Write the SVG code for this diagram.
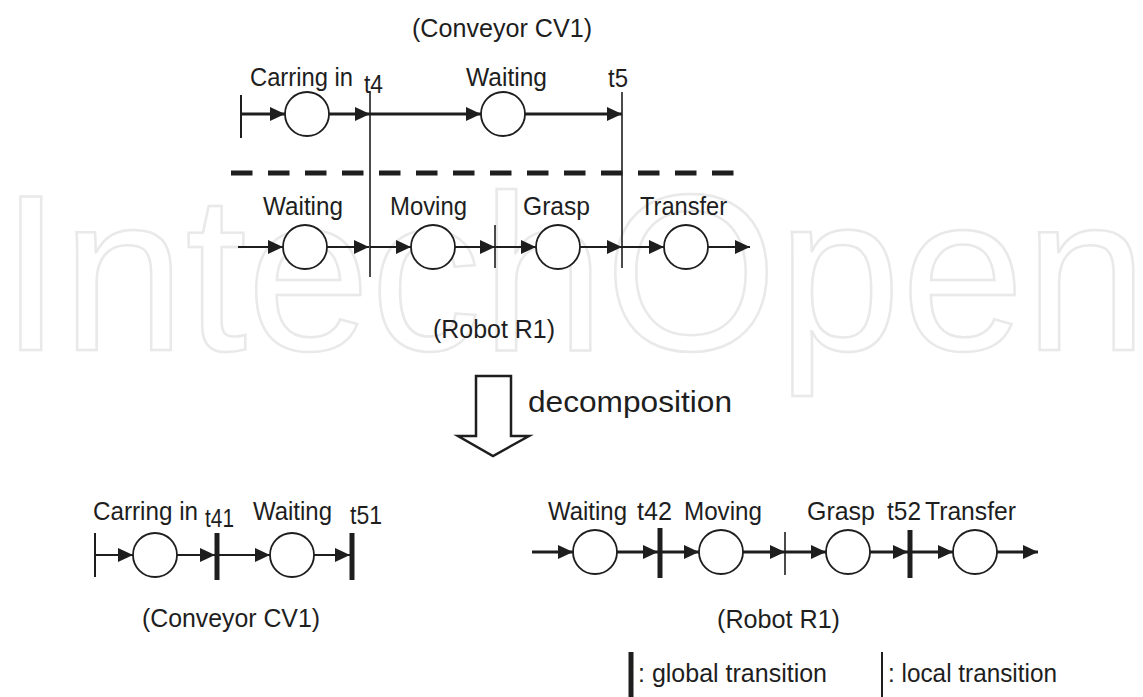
<svg xmlns="http://www.w3.org/2000/svg" width="1143" height="697" viewBox="0 0 1143 697">
<style>
text{font-family:"Liberation Sans",Arial,sans-serif;fill:#1e1e1e;font-size:26px}
.wm{font-size:222px;fill:none;stroke:#e9e9e9;stroke-width:2.5}
.pl{fill:#fff;stroke:#1e1e1e;stroke-width:1.8}
.a3{stroke:#1e1e1e;stroke-width:3;fill:none;marker-end:url(#ah)}
.a2{stroke:#1e1e1e;stroke-width:2;fill:none;marker-end:url(#ah)}
.lt{stroke:#1e1e1e;stroke-width:1.6}
.gt{stroke:#1e1e1e;stroke-width:5}
.tick{stroke:#1e1e1e;stroke-width:2}
</style>
<defs>
<marker id="ah" markerUnits="userSpaceOnUse" markerWidth="15" markerHeight="14" refX="15" refY="7" orient="auto">
<path d="M0,0 L15,7 L0,14 z" fill="#1e1e1e"/>
</marker>
</defs>
<rect width="1143" height="697" fill="#fff"/>
<text class="wm" x="0" y="350">IntechOpen</text>

<g id="connectors">
<!-- top conveyor row -->
<line class="a3" x1="241" y1="114" x2="285" y2="114"/>
<line class="a3" x1="329" y1="114" x2="370" y2="114"/>
<line class="a3" x1="370" y1="114" x2="481" y2="114"/>
<line class="a3" x1="525" y1="114" x2="622" y2="114"/>
<!-- top robot row -->
<line class="a2" x1="238" y1="247" x2="283" y2="247"/>
<line class="a2" x1="327" y1="247" x2="369" y2="247"/>
<line class="a2" x1="370" y1="247" x2="411" y2="247"/>
<line class="a2" x1="455" y1="247" x2="495" y2="247"/>
<line class="a2" x1="495" y1="247" x2="536" y2="247"/>
<line class="a2" x1="580" y1="247" x2="622" y2="247"/>
<line class="a2" x1="622" y1="247" x2="664" y2="247"/>
<line class="a2" x1="708" y1="247" x2="750" y2="247"/>
<!-- bottom conveyor -->
<line class="a2" x1="95" y1="555" x2="133" y2="555"/>
<line class="a2" x1="177" y1="555" x2="215" y2="555"/>
<line class="a2" x1="217" y1="555" x2="270" y2="555"/>
<line class="a2" x1="314" y1="555" x2="350" y2="555"/>
<!-- bottom robot -->
<line class="a3" x1="532" y1="552" x2="573" y2="552"/>
<line class="a3" x1="617" y1="552" x2="658" y2="552"/>
<line class="a3" x1="660" y1="552" x2="699" y2="552"/>
<line class="a3" x1="743" y1="552" x2="785" y2="552"/>
<line class="a3" x1="785" y1="552" x2="826" y2="552"/>
<line class="a3" x1="870" y1="552" x2="908" y2="552"/>
<line class="a3" x1="910" y1="552" x2="953" y2="552"/>
<line class="a3" x1="997" y1="552" x2="1038" y2="552"/>
</g>

<g id="top-conveyor">
<text x="412" y="37" textLength="180" lengthAdjust="spacingAndGlyphs">(Conveyor CV1)</text>
<line class="tick" x1="241" y1="95" x2="241" y2="138"/>
<g id="cv-carring"><circle class="pl" cx="307" cy="114" r="22"/><text x="250" y="86" textLength="103" lengthAdjust="spacingAndGlyphs">Carring in</text></g>
<g id="cv-waiting"><circle class="pl" cx="503" cy="114" r="22"/><text x="466" y="86" textLength="81" lengthAdjust="spacingAndGlyphs">Waiting</text></g>
<g id="t4"><line class="lt" x1="370" y1="91" x2="370" y2="277"/><text x="364" y="93" textLength="19" lengthAdjust="spacingAndGlyphs">t4</text></g>
<g id="t5"><line class="lt" x1="622" y1="92" x2="622" y2="268"/><text x="608" y="87" textLength="20" lengthAdjust="spacingAndGlyphs">t5</text></g>
</g>

<line id="separator" x1="231" y1="173" x2="735" y2="173" stroke="#1e1e1e" stroke-width="5" stroke-dasharray="21.5 15.5"/>

<g id="top-robot">
<g id="r-waiting"><circle class="pl" cx="305" cy="247" r="22"/><text x="263" y="215" textLength="80" lengthAdjust="spacingAndGlyphs">Waiting</text></g>
<g id="r-moving"><circle class="pl" cx="433" cy="247" r="22"/><text x="390" y="215" textLength="77" lengthAdjust="spacingAndGlyphs">Moving</text></g>
<g id="r-local"><line class="lt" x1="495" y1="225" x2="495" y2="268"/></g>
<g id="r-grasp"><circle class="pl" cx="558" cy="247" r="22"/><text x="523" y="215" textLength="67" lengthAdjust="spacingAndGlyphs">Grasp</text></g>
<g id="r-transfer"><circle class="pl" cx="686" cy="247" r="22"/><text x="640" y="215" textLength="87" lengthAdjust="spacingAndGlyphs">Transfer</text></g>
<text x="433" y="338" textLength="122" lengthAdjust="spacingAndGlyphs">(Robot R1)</text>
</g>

<g id="decomposition">
<polygon points="476,376 511,376 511,436 529,436 493,456 458,436 476,436" fill="#fff" stroke="#1e1e1e" stroke-width="2.5" stroke-linejoin="miter"/>
<text x="528" y="412" font-size="30" textLength="204" lengthAdjust="spacingAndGlyphs" style="font-size:30px">decomposition</text>
</g>

<g id="bottom-conveyor">
<line class="tick" x1="95" y1="533" x2="95" y2="577"/>
<g id="b-carring"><circle class="pl" cx="155" cy="555" r="22"/><text x="93" y="520" textLength="105" lengthAdjust="spacingAndGlyphs">Carring in</text></g>
<g id="t41"><line class="gt" x1="217" y1="533" x2="217" y2="580"/><text x="205" y="527" textLength="29" lengthAdjust="spacingAndGlyphs">t41</text></g>
<g id="b-waiting"><circle class="pl" cx="292" cy="555" r="22"/><text x="253" y="520" textLength="79" lengthAdjust="spacingAndGlyphs">Waiting</text></g>
<g id="t51"><line class="gt" x1="352" y1="533" x2="352" y2="580"/><text x="350" y="524" textLength="32" lengthAdjust="spacingAndGlyphs">t51</text></g>
<text x="142" y="627" textLength="178" lengthAdjust="spacingAndGlyphs">(Conveyor CV1)</text>
</g>

<g id="bottom-robot">
<g id="br-waiting"><circle class="pl" cx="595" cy="552" r="22"/><text x="548" y="520" textLength="79" lengthAdjust="spacingAndGlyphs">Waiting</text></g>
<g id="t42"><line class="gt" x1="660" y1="528" x2="660" y2="578"/><text x="637" y="520" textLength="35" lengthAdjust="spacingAndGlyphs">t42</text></g>
<g id="br-moving"><circle class="pl" cx="721" cy="552" r="22"/><text x="684" y="520" textLength="78" lengthAdjust="spacingAndGlyphs">Moving</text></g>
<g id="br-local"><line class="lt" x1="785" y1="532" x2="785" y2="575"/></g>
<g id="br-grasp"><circle class="pl" cx="848" cy="552" r="22"/><text x="807" y="520" textLength="68" lengthAdjust="spacingAndGlyphs">Grasp</text></g>
<g id="t52"><line class="gt" x1="910" y1="530" x2="910" y2="578"/><text x="887" y="520" textLength="34" lengthAdjust="spacingAndGlyphs">t52</text></g>
<g id="br-transfer"><circle class="pl" cx="975" cy="552" r="22"/><text x="925" y="520" textLength="91" lengthAdjust="spacingAndGlyphs">Transfer</text></g>
<text x="717" y="628" textLength="123" lengthAdjust="spacingAndGlyphs">(Robot R1)</text>
</g>

<g id="legend">
<line class="gt" x1="631" y1="652" x2="631" y2="697"/>
<text x="638" y="682" textLength="189" lengthAdjust="spacingAndGlyphs">: global transition</text>
<line class="tick" x1="882" y1="652" x2="882" y2="697"/>
<text x="888" y="682" textLength="169" lengthAdjust="spacingAndGlyphs">: local transition</text>
</g>
</svg>
